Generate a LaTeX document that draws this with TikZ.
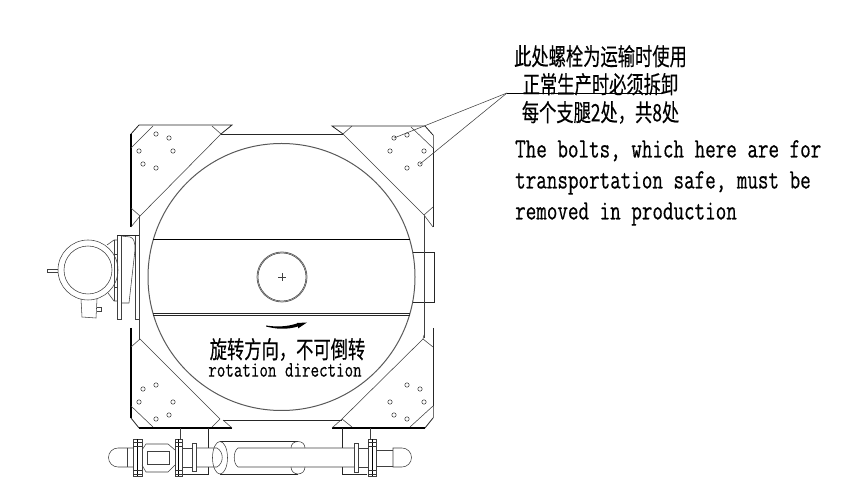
\documentclass[tikz,border=0pt]{standalone}
\usepackage{fontspec}
\newfontfamily\cjkfont[FakeStretch=0.72,FakeBold=0.3]{Noto Sans CJK SC}
\newfontfamily\notefont[FakeStretch=0.732,FakeBold=0.4]{Latin Modern Mono}
\newfontfamily\rotfont[FakeStretch=0.752,FakeBold=0.4]{Latin Modern Mono}
\begin{document}
\begin{tikzpicture}[
    x=1pt, y=-1pt,
    thinline/.style={line width=0.55pt, black!75},
    midline/.style={line width=0.8pt, black!85},
    heavy/.style={line width=1.2pt},
    hole/.style={line width=0.5pt, black!85},
    bolt/.style={line width=0.5pt, black!80}
]
    \useasboundingbox (0,0) rectangle (863,502);

    % Drum
    \draw[line width=1pt, black!65] (281.5,277) circle (133.5);
    \draw[heavy] (153,239.5) -- (410,239.5);
    \draw[midline] (153,313.5) -- (410,313.5);
    \draw[midline] (153,315) -- (410,315);
    \draw[midline, black!60] (282,277) circle (25);
    \draw[thinline] (282,277) circle (24);
    \draw[thinline] (278,277) -- (286,277) (282,273) -- (282,281);
    \draw[midline] (413,252) -- (434,252) -- (434,302) -- (413,302);

    % Frame
    \draw[midline] (221,134) -- (343,134);
    \draw[midline] (223,420) -- (342,420);
    \draw[thinline] (139,216) -- (139,340);
    \draw[thinline] (424,216) -- (424,338);

    % Top left support
    \draw[midline] (139,125) -- (232,125) -- (221,134);
    \draw[heavy] (131,227) -- (131,134);
    \draw[midline] (131,134) -- (139,125);
    \draw[thinline] (221,134) -- (140,216) -- (131,208);
    \draw[thinline] (140,216) -- (131,227);
    \draw[thinline] (153,126) -- (131,148);
    \draw[thinline] (212,126) -- (221,134);
    % Top right support
    \draw[midline] (343,134) -- (332,126) -- (425,126) -- (433,135);
    \draw[midline, black!55] (433,135) -- (433,148);
    \draw[midline] (433,148) -- (433,227);
    \draw[thinline] (343,134) -- (424,215) -- (433,227);
    \draw[thinline] (352,126) -- (343,134);
    \draw[thinline] (411,127) -- (433,148);
    \draw[thinline] (433,207) -- (424,215);
    % Bottom left support
    \draw[heavy] (131,328) -- (131,418);
    \draw[midline] (131,418) -- (139,428);
    \draw[heavy] (139,428) -- (232,428);
    \draw[thinline] (232,428) -- (223,420);
    \draw[thinline] (220,419) -- (140,339) -- (131,347);
    \draw[thinline] (131,406) -- (153,427);
    \draw[thinline] (212,427) -- (220,419);
    % Bottom right support
    \draw[midline] (433,328) -- (433,406);
    \draw[midline, black!55] (433,406) -- (433,418);
    \draw[midline] (433,418) -- (425,428);
    \draw[heavy] (425,428) -- (332,428);
    \draw[thinline] (332,428) -- (342,419);
    \draw[thinline] (342,419) -- (423,339) -- (433,347);
    \draw[thinline] (423,339) -- (424,335);
    \draw[thinline] (410,427) -- (433,406);
    \draw[thinline] (342,419) -- (352,427);

    % Bolts
    \foreach \hx/\hy in {156/134,169/138,139/151,173/151,143/164,156/168,
                         394/138,407/135,390/151,424/151,407/168,420/164,
                         156/385,143/389,139/402,173/402,169/415,156/419,
                         407/385,420/389,390/402,424/402,394/415,407/419}
        \draw[hole] (\hx,\hy) circle (2.2);

    % Motor
    \draw[thinline] (88,270) circle (30);
    \draw[thinline] (88,270) circle (24);
    \draw[thinline] (58,269) -- (47,269) -- (47,272) -- (58,272);
    \draw[thinline] (81,299) -- (82,317) -- (96,318) -- (97,299);
    \draw[thinline] (97,307) -- (101,307) -- (101,311) -- (97,311);
    \draw[thinline] (117,235) rectangle (121,319);
    \draw[thinline] (135,235) rectangle (139,319);
    \draw[midline] (117,235) -- (139,235);
    \draw[thinline] (121,236) -- (130,237) .. controls (134,238) and (135,242) .. (135,250) -- (129,303) -- (121,303);
    \draw[thinline] (107,245) -- (114,240) -- (117,240);
    \draw[thinline] (108,293) -- (114,301) -- (117,301);
    \draw[thinline] (114,240) -- (114,301);
    \draw[thinline] (114,254) -- (117,254) (114,287) -- (117,287);

    % Pipe supports
    \draw[thinline] (180,428) -- (180,439);
    \draw[thinline] (370,428) -- (370,440);
    \draw[midline] (208,428) -- (208,448) (208,467) -- (208,474) -- (182,474);
    \draw[midline] (342,428) -- (342,448) (342,467) -- (342,474) -- (367,474);

    % Pipe ends
    \draw[thinline] (133,448) -- (118,448) arc[start angle=270, end angle=90, radius=9.5] -- (133,467);
    \draw[thinline] (127,448) -- (127,467);
    \draw[thinline] (376,450) -- (393,450) (376,466) -- (393,466);
    \draw[thinline] (393,448) -- (402,448) arc[start angle=-90, end angle=90, radius=9.5] -- (393,467) -- cycle;

    % Valve body
    \draw[thinline] (142,450) -- (146,444) -- (168,444) -- (175,450);
    \draw[thinline] (142,465) -- (146,472) -- (168,472) -- (175,465);
    \draw[thinline] (147,451) rectangle (169,464);

    % Flanges
    \foreach \fa/\fb in {133/142,175/182,368/376} {
        \draw[thinline] (\fa,439.5) rectangle (\fb,476);
        \draw[line width=1pt] ({(\fa+\fb)/2},439.5) -- ({(\fa+\fb)/2},476);
        \foreach \fy in {442,446,470,474}
            \draw[bolt] (\fa,\fy) -- (\fb,\fy);
    }
    \draw[thinline] (192,443) rectangle (196,471);
    \draw[thinline] (354,443) rectangle (358,472);

    % Pipe
    \draw[thinline] (182,448) -- (192,448) (182,467) -- (192,467);
    \draw[thinline] (196,448) -- (217,448) .. controls (224,452) and (224,463) .. (217,467) -- (196,467);
    \draw[thinline] (358,448) -- (368,448) (358,467) -- (368,467);
    \draw[midline] (220,441.5) -- (298,441.5) (220,474) -- (298,474);
    \draw[thinline] (220,457.75) ellipse (7.5 and 16.25);
    \draw[thinline] (354,448) -- (238,448) .. controls (233,451) and (233,464) .. (238,467) -- (354,467);
    \draw[thinline] (291,448) .. controls (291,444) and (294,441.5) .. (298,441.5) .. controls (302,441.5) and (305,444) .. (305,448);
    \draw[thinline] (291,467) .. controls (291,471) and (294,474) .. (298,474) .. controls (302,474) and (305,471) .. (305,467);

    % Rotation arrow
    \fill (266,325.5) .. controls (276,327) and (286,327) .. (297,323.5) -- (297,323) -- (307,322.5) -- (298,328.5) -- (298,326.5) .. controls (286,330) and (276,329) .. (266,326.5) -- cycle;

    % Notes
    \node[font=\cjkfont\fontsize{24}{28}\selectfont, align=center, inner sep=0pt] (notecn) at (600.5,84.5) {此处螺栓为运输时使用\\正常生产时必须拆卸\\每个支腿2处，共8处};
    \node[font=\notefont\fontsize{28}{31}\selectfont, align=left, inner sep=0pt, anchor=north west] (noteen) at (515,140) {The bolts, which here are for\\transportation safe, must be\\removed in production};
    \node[font=\cjkfont\fontsize{24}{26}\selectfont, inner sep=0pt] (rotcn) at (287.5,349.5) {旋转方向，不可倒转};
    \node[font=\rotfont\fontsize{22}{24}\selectfont, inner sep=0pt] (roten) at (285,370) {rotation direction};

    % Leaders
    \coordinate (leadknee) at (507,93);
    \coordinate (leadend) at (662,93);
    \coordinate (boltupper) at (394,138);
    \coordinate (boltlower) at (420,164);
    \draw[thinline] (boltupper) -- (leadknee);
    \draw[thinline] (boltlower) -- (leadknee);
    \draw[line width=0.7pt] (leadknee) -- (leadend);
\end{tikzpicture}
\end{document}
